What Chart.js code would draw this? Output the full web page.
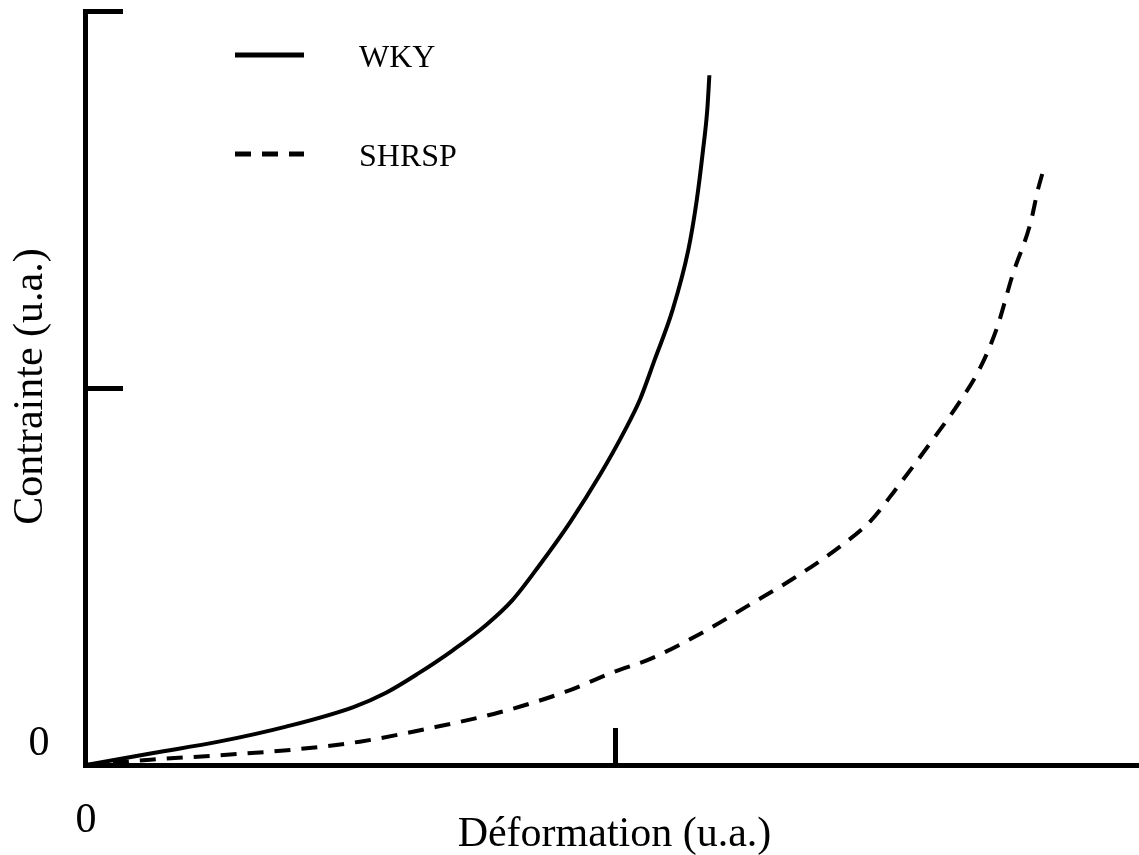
<!DOCTYPE html>
<html>
<head>
<meta charset="utf-8">
<script src="https://cdn.jsdelivr.net/npm/chart.js@4.4.1/dist/chart.umd.min.js"></script>
<style>
  html, body { margin: 0; padding: 0; background: #fff; }
  #wrap { width: 1139px; height: 855px; }
</style>
</head>
<body>
<div id="wrap"><canvas id="stressChart" width="1139" height="855"></canvas></div>
<script>
// Stress / strain curves, arbitrary units (0..100 on both axes)
const wkyStrain = [0, 6.4, 12.6, 19.0, 25.4, 28.5, 31.6, 34.9, 38.0, 40.5, 43.1, 46.0, 48.8, 51.2, 52.6, 54.0, 55.7, 57.2, 58.0, 58.6, 59.0, 59.2];
const wkyStress = [0, 1.6, 3.1, 5.1, 7.7, 9.6, 12.2, 15.3, 18.6, 21.9, 26.6, 32.3, 38.5, 44.5, 48.5, 53.8, 60.4, 68.4, 75.0, 81.7, 87.0, 91.6];

const shrspStrain = [0, 6.1, 12.7, 19.4, 26.0, 32.7, 39.3, 45.5, 50.2, 53.6, 58.3, 62.8, 67.1, 71.6, 74.5, 77.0, 80.2, 83.0, 84.9, 86.5, 88.0, 89.7, 90.4, 91.0];
const shrspStress = [0, 0.7, 1.3, 2.0, 3.1, 4.9, 7.0, 9.7, 12.4, 14.1, 17.4, 21.1, 24.7, 29.0, 32.4, 36.8, 42.8, 48.3, 52.7, 58.0, 65.1, 72.0, 76.4, 79.4];

const seriesNames = ['WKY', 'SHRSP'];
const xTickMarks = [50];
const yTickMarks = [50, 100];
const originLabel = '0';
const xTitle = 'Déformation (u.a.)';
const yTitle = 'Contrainte (u.a.)';

const SERIF = '"Liberation Serif", "Times New Roman", serif';
const DASH = [16, 11];

function toPoints(xs, ys) {
    return xs.map((x, i) => ({ x: x, y: ys[i] }));
}

// axes, inward ticks, the two "0" labels and the titles
const axesPlugin = {
    id: 'axes',
    afterDraw(chart) {
        const ctx = chart.ctx;
        const xs = chart.scales.x, ys = chart.scales.y;
        const x0 = Math.round(xs.getPixelForValue(0));
        const y0 = Math.round(ys.getPixelForValue(0));
        const yTop = Math.round(ys.getPixelForValue(100));
        const right = chart.width;
        const tickLen = 37;
        ctx.save();
        ctx.fillStyle = '#000';
        // axis lines
        ctx.fillRect(x0 - 3, yTop - 3, 5, y0 - yTop + 6);
        ctx.fillRect(x0 - 3, y0 - 2, right - x0 + 3, 5);
        // ticks pointing into the plot
        yTickMarks.forEach(v => {
            const py = Math.round(ys.getPixelForValue(v));
            ctx.fillRect(x0 - 3, py - 3, tickLen + 3, 5);
        });
        xTickMarks.forEach(v => {
            const px = Math.round(xs.getPixelForValue(v));
            ctx.fillRect(px, y0 - tickLen, 5, tickLen);
        });
        // origin labels
        ctx.font = '42px ' + SERIF;
        ctx.textAlign = 'center';
        ctx.textBaseline = 'alphabetic';
        ctx.fillText(originLabel, x0 - 47, y0 - 10);
        ctx.fillText(originLabel, x0, y0 + 67);
        // titles
        ctx.fillText(xTitle, (x0 + right) / 2 + 2, y0 + 81);
        ctx.translate(42, (yTop + y0) / 2 - 2);
        ctx.rotate(-Math.PI / 2);
        ctx.fillText(yTitle, 0, 0);
        ctx.restore();
    }
};

// legend: short line sample followed by the series name
const keyPlugin = {
    id: 'key',
    afterDraw(chart) {
        const ctx = chart.ctx;
        ctx.save();
        ctx.font = '32px ' + SERIF;
        ctx.textBaseline = 'alphabetic';
        ctx.textAlign = 'left';
        ctx.fillStyle = '#000';
        chart.data.datasets.forEach((ds, i) => {
            const ly = 55 + i * 99;
            ctx.strokeStyle = '#000';
            ctx.lineWidth = 5;
            ctx.setLineDash(ds.borderDash || []);
            ctx.beginPath();
            ctx.moveTo(235, ly);
            ctx.lineTo(304, ly);
            ctx.stroke();
            ctx.setLineDash([]);
            ctx.fillText(ds.label, 359, ly + 12);
        });
        ctx.restore();
    }
};

const chart = new Chart(document.getElementById('stressChart').getContext('2d'), {
    type: 'line',
    data: {
        datasets: [
            { label: seriesNames[0], data: toPoints(wkyStrain, wkyStress), borderColor: '#000', borderWidth: 4, pointRadius: 0, fill: false, cubicInterpolationMode: 'monotone' },
            { label: seriesNames[1], data: toPoints(shrspStrain, shrspStress), borderColor: '#000', borderWidth: 4, borderDash: DASH, pointRadius: 0, fill: false, cubicInterpolationMode: 'monotone' }
        ]
    },
    options: {
        responsive: false,
        animation: false,
        events: [],
        layout: { padding: { left: 86, right: 0, top: 12, bottom: 90 } },
        plugins: { legend: { display: false }, tooltip: { enabled: false } },
        scales: {
            x: { type: 'linear', min: 0, max: 100, display: false },
            y: { type: 'linear', min: 0, max: 100, display: false }
        }
    },
    plugins: [axesPlugin, keyPlugin]
});
</script>
</body>
</html>
